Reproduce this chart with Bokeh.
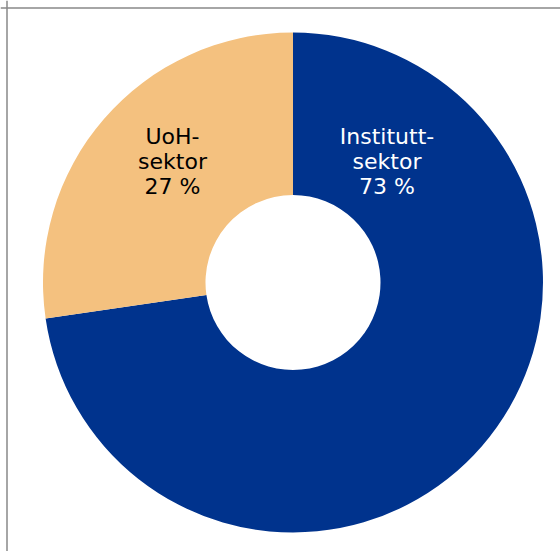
import math
from bokeh.plotting import figure
from bokeh.models import Range1d, Span, ColumnDataSource
from bokeh.core.properties import value
from bokeh.embed import file_html
from bokeh.resources import INLINE

# Data
categories = ["Instituttsektor", "UoH-sektor"]
shares = [72.7, 27.3]
labels = ["Institutt-\nsektor\n73 %", "UoH-\nsektor\n27 %"]
colors = ["#00338D", "#F4C17F"]
label_colors = ["#FFFFFF", "#000000"]

W, H = 560, 551
p = figure(width=W, height=H, output_backend="svg", toolbar_location=None,
           x_range=Range1d(0, W), y_range=Range1d(0, H), min_border=0)
p.axis.visible = False
p.grid.visible = False
p.outline_line_color = None
p.background_fill_color = "white"

cx, cy = 292.5, H - 282
r_out, r_in = 250, 87.5

# angles: start at top, going clockwise for first slice
total = sum(shares)
starts, ends = [], []
a = math.pi / 2
for s in shares:
    span = 2 * math.pi * s / total
    starts.append(a - span)
    ends.append(a)
    a -= span

src = ColumnDataSource(dict(cat=categories, start=starts, end=ends, color=colors))
p.annular_wedge(x=cx, y=cy, inner_radius=r_in, outer_radius=r_out,
                start_angle="start", end_angle="end", fill_color="color",
                line_color=None, source=src)

# label positions (layout): centre x of each label block, first baseline
lx = [cx + 94, cx - 120.5]
first_baseline = H - 136
line_gap = 25
xs, ys, ts, cs = [], [], [], []
for x0, lab, col in zip(lx, labels, label_colors):
    for i, line in enumerate(lab.split("\n")):
        xs.append(x0)
        ys.append(first_baseline - i * line_gap)
        ts.append(line)
        cs.append(col)
lsrc = ColumnDataSource(dict(x=xs, y=ys, text=ts, color=cs))
p.text(x="x", y="y", text="text", text_color="color", source=lsrc,
       text_font=value("DejaVu Sans"), text_font_size="22px",
       text_align="center", text_baseline="alphabetic")

# frame lines (top and left)
p.add_layout(Span(location=H - 7.5, dimension="width", line_color="#888888", line_width=1.5))
p.add_layout(Span(location=6.5, dimension="height", line_color="#888888", line_width=1.5))

open("out.html", "w").write(file_html(p, INLINE))
